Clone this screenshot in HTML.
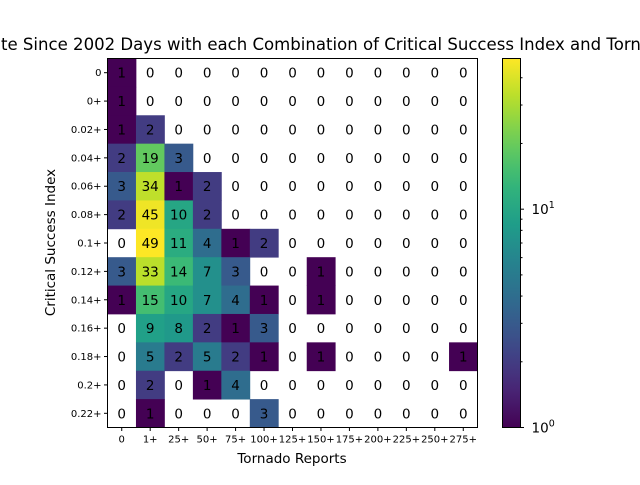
<!DOCTYPE html>
<html><head><meta charset="utf-8"><style>
body{margin:0;background:#fff}
svg{font-family:"DejaVu Sans","Liberation Sans",sans-serif}
</style></head><body>
<svg id="c" width="640" height="480" viewBox="0 0 640 480" xmlns="http://www.w3.org/2000/svg">
<text id="title" x="0" y="50" font-size="16.5"><tspan id="tpre">Upda</tspan><tspan id="tmid">te Since 2002 Days with each Combination of Critical Success Index and Torn</tspan><tspan>ado Reports</tspan></text>
<g id="cells"></g>
<g id="ticks"></g>
<text x="292" y="463" font-size="13.5" text-anchor="middle">Tornado Reports</text>
<text x="0" y="0" font-size="13.5" text-anchor="middle" transform="translate(55,242.5) rotate(-90)">Critical Success Index</text>
<defs><linearGradient id="vg" x1="0" y1="1" x2="0" y2="0"></linearGradient></defs>
<rect x="502.5" y="58.5" width="18" height="369" fill="url(#vg)" stroke="#000" stroke-width="1"/>
<g id="cbticks"></g>
</svg>
<script>
const xLabels=["0","1+","25+","50+","75+","100+","125+","150+","175+","200+","225+","250+","275+"];
const yLabels=["0","0+","0.02+","0.04+","0.06+","0.08+","0.1+","0.12+","0.14+","0.16+","0.18+","0.2+","0.22+"];
const counts=[
[1,0,0,0,0,0,0,0,0,0,0,0,0],
[1,0,0,0,0,0,0,0,0,0,0,0,0],
[1,2,0,0,0,0,0,0,0,0,0,0,0],
[2,19,3,0,0,0,0,0,0,0,0,0,0],
[3,34,1,2,0,0,0,0,0,0,0,0,0],
[2,45,10,2,0,0,0,0,0,0,0,0,0],
[0,49,11,4,1,2,0,0,0,0,0,0,0],
[3,33,14,7,3,0,0,1,0,0,0,0,0],
[1,15,10,7,4,1,0,1,0,0,0,0,0],
[0,9,8,2,1,3,0,0,0,0,0,0,0],
[0,5,2,5,2,1,0,1,0,0,0,0,1],
[0,2,0,1,4,0,0,0,0,0,0,0,0],
[0,1,0,0,0,3,0,0,0,0,0,0,0]];
const vmin=1,vmax=49;
const X0=107.5,Y0=58.5,W=370,H=369;
const cw=W/xLabels.length,ch=H/yLabels.length;
const vir=[[68,1,84],[72,40,120],[62,74,137],[49,104,142],[38,130,142],[31,158,137],[53,183,121],[109,205,89],[180,222,44],[253,231,37]];
function viridis(t){t=Math.max(0,Math.min(1,t));const p=t*(vir.length-1),i=Math.min(Math.floor(p),vir.length-2),f=p-i;
const c=vir[i].map((v,k)=>Math.round(v+(vir[i+1][k]-v)*f));return `rgb(${c})`;}
function norm(v){return Math.log(v/vmin)/Math.log(vmax/vmin);}
const NS="http://www.w3.org/2000/svg";
function mk(t,a,p){const e=document.createElementNS(NS,t);for(const k in a)e.setAttribute(k,a[k]);p.appendChild(e);return e;}
// fit title so the visible portion matches the reference crop
(function(){const T=document.getElementById('title'),pre=document.getElementById('tpre'),mid=document.getElementById('tmid');
 const fs=16.5*640/mid.getComputedTextLength();T.setAttribute('font-size',fs);
 T.setAttribute('x',-pre.getComputedTextLength()+1);})();
const cells=document.getElementById('cells');
counts.forEach((row,r)=>row.forEach((v,c)=>{
 const x=X0+c*cw,y=Y0+r*ch;
 if(v>0){const rc=mk('rect',{x:x,y:y,width:cw+0.4,height:ch+0.4,fill:viridis(norm(v))},cells);
 
 }
 const t=mk('text',{x:x+cw/2,y:y+ch/2+5,'font-size':13.5,'text-anchor':'middle'},cells);t.textContent=v;
 
 
}));
mk('rect',{x:X0,y:Y0,width:W,height:H,fill:'none',stroke:'#000','stroke-width':1},cells);
const tk=document.getElementById('ticks');
xLabels.forEach((l,i)=>{const x=X0+(i+.5)*cw;mk('line',{x1:x,x2:x,y1:Y0+H,y2:Y0+H+3.5,stroke:'#000'},tk);
 const t=mk('text',{x:x,y:Y0+H+15,'font-size':10,'text-anchor':'middle'},tk);t.textContent=l;
 
 });
yLabels.forEach((l,i)=>{const y=Y0+(i+.5)*ch;mk('line',{x1:X0-3.5,x2:X0,y1:y,y2:y,stroke:'#000'},tk);
 const t=mk('text',{x:X0-6,y:y+3.5,'font-size':10,'text-anchor':'end'},tk);t.textContent=l;
 
 });
const g=document.getElementById('vg');
for(let i=0;i<=20;i++){mk('stop',{offset:i/20,'stop-color':viridis(i/20)},g);}
const cb=document.getElementById('cbticks');
const CX=520.5,CY=427.5,CH=369;
const cbY=v=>CY-norm(v)*CH;
[2,3,4,5,6,7,8,9,20,30,40].forEach(v=>{mk('line',{x1:CX,x2:CX+2,y1:cbY(v),y2:cbY(v),stroke:'#000'},cb);});
[[1,'0'],[10,'1']].forEach(([v,e])=>{const y=cbY(v);mk('line',{x1:CX,x2:CX+3.5,y1:y,y2:y,stroke:'#000'},cb);
 const t=mk('text',{x:CX+11,y:y+5,'font-size':13.5},cb);t.textContent='10';
 const s=mk('tspan',{dy:-6,'font-size':9.5},t);s.textContent=e;
 
 });
</script>
</body></html>
